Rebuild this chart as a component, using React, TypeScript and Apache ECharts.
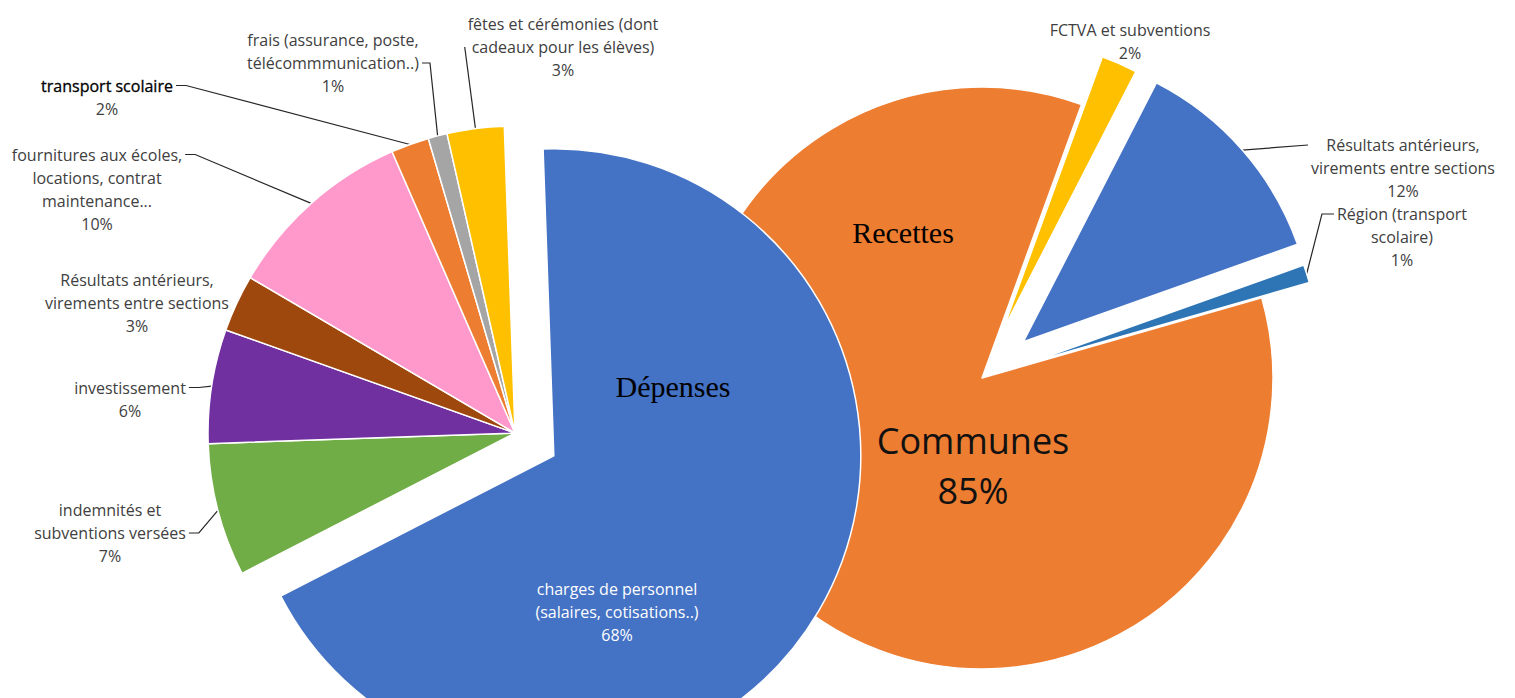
import React, { useEffect, useRef } from "react";
import * as echarts from "echarts";

// ---------- DATA ----------
const depCategories = [
  "charges de personnel (salaires, cotisations..)",
  "indemnités et subventions versées",
  "investissement",
  "Résultats antérieurs, virements entre sections",
  "fournitures aux écoles, locations, contrat maintenance...",
  "transport scolaire",
  "frais (assurance, poste, télécommmunication..)",
  "fêtes et cérémonies (dont cadeaux pour les élèves)",
];
const depLabelText = [
  "charges de personnel\n(salaires, cotisations..)",
  "indemnités et\nsubventions versées",
  "investissement",
  "Résultats antérieurs,\nvirements entre sections",
  "fournitures aux écoles,\nlocations, contrat\nmaintenance...",
  "transport scolaire",
  "frais (assurance, poste,\ntélécommmunication..)",
  "fêtes et cérémonies (dont\ncadeaux pour les élèves)",
];
const depValues = [68, 7, 6, 3, 10, 2, 1, 3];

const recCategories = [
  "FCTVA et subventions",
  "Résultats antérieurs, virements entre sections",
  "Région (transport scolaire)",
  "Communes",
];
const recLabelText = [
  "FCTVA et subventions",
  "Résultats antérieurs,\nvirements entre sections",
  "Région (transport\nscolaire)",
  "Communes",
];
const recValues = [2, 12, 1, 85];

const titles = ["Dépenses", "Recettes"];

// ---------- STYLE / LAYOUT ----------
const depColors = ["#4472C4", "#70AD47", "#7030A0", "#9E480E", "#FF99CC", "#ED7D31", "#A5A5A5", "#FFC000"];
const recColors = ["#FFC000", "#4472C4", "#2E75B6", "#ED7D31"];

const depCenter = [515, 433];
const depRadius = 307;
const depStart = 92;
const depExplode = [45, 0, 0, 0, 0, 0, 0, 0];

const recCenter = [982, 378];
const recRadius = 291;
const recStart = 70;
const recExplode = [52, 55, 50, 0];

const FONT = "'Open Sans', 'Noto Sans', sans-serif";
const FS = 16;
const LH = 23;
const TEXT = "#404040";

// label centre positions
const depLabelPos = [[617, 612], [110, 533], [130, 399], [137, 303], [97, 189], [107, 97], [333, 63], [563, 47]];
// [side, lineIndex, stub]
const depAttach: any[] = [null, ["right", 1, 10], ["right", 0, 10], null, ["right", 0, 10], ["right", 0, 10], ["right", 1, 8], ["left", 1, 0]];
const recLabelPos = [[1130, 41], [1403, 168], [1402, 237], [973, 465]];
const recAttach: any[] = [null, ["left", 0, 0], ["left", 0, 12], null];

function sum(a: number[]) {
  return a.reduce((s, v) => s + v, 0);
}

function shiftedCenter(center: number[], values: number[], idx: number, start: number, dist: number) {
  const total = sum(values);
  const before = sum(values.slice(0, idx));
  const mid = ((start - ((before + values[idx] / 2) / total) * 360) * Math.PI) / 180;
  return [center[0] + Math.cos(mid) * dist, center[1] - Math.sin(mid) * dist];
}

function buildSeries(
  key: string,
  categories: string[],
  values: number[],
  colors: string[],
  labelText: string[],
  visible: number[],
  center: number[],
  radius: number,
  start: number,
  attach: any[]
) {
  return {
    type: "pie",
    id: key,
    name: key,
    center,
    radius,
    startAngle: start,
    clockwise: true,
    avoidLabelOverlap: false,
    silent: true,
    emphasis: { disabled: true },
    label: {
      show: true,
      position: "outside",
      fontFamily: FONT,
      fontSize: FS,
      lineHeight: LH,
      color: TEXT,
      align: "center",
      formatter: (p: any) => {
        const t = labelText[p.dataIndex];
        const pct = Math.round(p.percent) + "%";
        if (key === "dep" && p.dataIndex === 5) return "{b|" + t + "}\n" + pct;
        return t + "\n" + pct;
      },
      rich: {
        b: { fontFamily: FONT, fontSize: FS, lineHeight: LH, color: "#000000", fontWeight: 500, textBorderColor: "#000000", textBorderWidth: 0.3 },
      },
    },
    labelLine: { show: true, length: 10, length2: 10, lineStyle: { color: "#262626", width: 1.2 } },
    data: categories.map((name, i) => {
      const vis = visible.indexOf(i) >= 0;
      if (!vis) {
        return {
          name,
          value: values[i],
          itemStyle: { color: "rgba(0,0,0,0)", borderWidth: 0 },
          label: { show: false },
          labelLine: { show: false },
        };
      }
      const item: any = {
        name,
        value: values[i],
        itemStyle: { color: colors[i], borderColor: "#ffffff", borderWidth: 1.5 },
        labelLine: { show: !!attach[i] },
      };
      if (key === "dep" && i === 0) item.label = { color: "#ffffff" };
      if (key === "rec" && i === 3) item.label = { color: "#111111", fontSize: 36, lineHeight: 50 };
      return item;
    }),
  };
}

export default function App() {
  const ref = useRef<HTMLDivElement>(null);
  useEffect(() => {
    if (!ref.current) return;
    const chart = echarts.init(ref.current, undefined, { renderer: "svg" });

    const series: any[] = [];
    const meta: any[] = [];
    // Recettes (behind)
    const recBaseVisible = recValues.map((_, i) => i).filter((i) => recExplode[i] === 0);
    series.push(buildSeries("rec", recCategories, recValues, recColors, recLabelText, recBaseVisible, recCenter, recRadius, recStart, recAttach));
    meta.push("rec");
    recValues.forEach((_, i) => {
      if (recExplode[i] > 0) {
        const c = shiftedCenter(recCenter, recValues, i, recStart, recExplode[i]);
        series.push(buildSeries("rec", recCategories, recValues, recColors, recLabelText, [i], c, recRadius, recStart, recAttach));
        series[series.length - 1].id = "rec" + i;
        meta.push("rec");
      }
    });
    // Dépenses (front)
    const depBaseVisible = depValues.map((_, i) => i).filter((i) => depExplode[i] === 0);
    series.push(buildSeries("dep", depCategories, depValues, depColors, depLabelText, depBaseVisible, depCenter, depRadius, depStart, depAttach));
    meta.push("dep");
    depValues.forEach((_, i) => {
      if (depExplode[i] > 0) {
        const c = shiftedCenter(depCenter, depValues, i, depStart, depExplode[i]);
        series.push(buildSeries("dep", depCategories, depValues, depColors, depLabelText, [i], c, depRadius, depStart, depAttach));
        series[series.length - 1].id = "dep" + i;
        meta.push("dep");
      }
    });

    series.forEach((s, si) => {
      const kind = meta[si];
      const posArr = kind === "dep" ? depLabelPos : recLabelPos;
      const attArr = kind === "dep" ? depAttach : recAttach;
      const txtArr = kind === "dep" ? depLabelText : recLabelText;
      s.labelLayout = (p: any) => {
        const pos = posArr[p.dataIndex];
        if (!pos) return {};
        const out: any = { x: pos[0], y: pos[1], align: "center", verticalAlign: "middle" };
        const att = attArr[p.dataIndex];
        if (att && p.labelLinePoints && p.labelLinePoints.length) {
          const w = p.labelRect.width;
          const h = p.labelRect.height;
          const n = txtArr[p.dataIndex].split("\n").length + 1;
          const lh = h / n;
          const ly = pos[1] - h / 2 + lh * (att[1] + 0.5);
          const side = att[0] === "right" ? 1 : -1;
          const ax = pos[0] + side * (w / 2 + 3);
          const anchor = p.labelLinePoints[0];
          out.labelLinePoints = [
            [anchor[0], anchor[1]],
            [ax + side * att[2], ly],
            [ax, ly],
          ];
        }
        return out;
      };
    });

    chart.setOption({
      animation: false,
      backgroundColor: "#ffffff",
      series,
      graphic: [
        {
          type: "text",
          x: 673,
          y: 386,
          z: 100,
          style: { text: titles[0], font: "30px 'Liberation Serif', 'Times New Roman', serif", fill: "#000", align: "center", verticalAlign: "middle" },
        },
        {
          type: "text",
          x: 903,
          y: 232,
          z: 100,
          style: { text: titles[1], font: "30px 'Liberation Serif', 'Times New Roman', serif", fill: "#000", align: "center", verticalAlign: "middle" },
        },
      ],
    });
    return () => chart.dispose();
  }, []);
  return <div ref={ref} style={{ position: "fixed", left: 0, top: 0, width: 1515, height: 698 }} />;
}
